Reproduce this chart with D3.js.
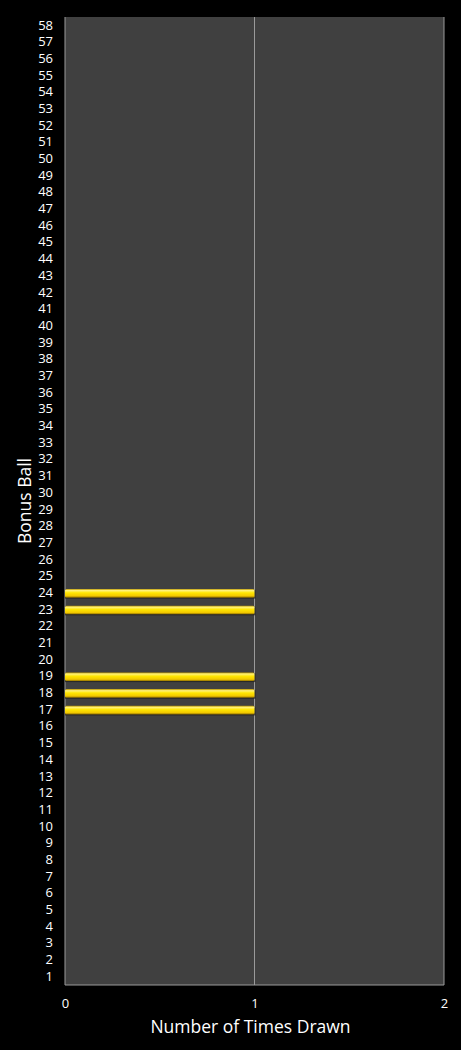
<!DOCTYPE html>
<html>
<head>
<meta charset="utf-8">
<script src="https://cdn.jsdelivr.net/npm/d3@7"></script>
<style>
  body { margin: 0; background: #000; }
  svg text { font-family: "Open Sans", "DejaVu Sans", sans-serif; fill: #fff; }
</style>
</head>
<body>
<div id="chart"></div>
<script>
// Bonus ball numbers 1..58 and how often each was drawn
const balls = d3.range(1, 59).map(String);
const drawnBalls = ["17", "18", "19", "23", "24"];
const drawnCounts = [1, 1, 1, 1, 1];
const xTicks = [0, 1, 2];

const counts = balls.map(b => {
  const i = drawnBalls.indexOf(b);
  return { ball: b, count: i < 0 ? 0 : drawnCounts[i] };
});

const W = 461, H = 1050;
const margin = { top: 17, right: 17, bottom: 65, left: 65 };
const width = W - margin.left - margin.right;
const height = H - margin.top - margin.bottom;

const svg = d3.select("#chart").append("svg")
  .attr("width", W).attr("height", H);

const defs = svg.append("defs");
const grad = defs.append("linearGradient")
  .attr("id", "gold").attr("x1", 0).attr("y1", 0).attr("x2", 0).attr("y2", 1);
grad.append("stop").attr("offset", "0%").attr("stop-color", "#b89400");
grad.append("stop").attr("offset", "18%").attr("stop-color", "#fff27a");
grad.append("stop").attr("offset", "45%").attr("stop-color", "#ffe600");
grad.append("stop").attr("offset", "80%").attr("stop-color", "#f2c800");
grad.append("stop").attr("offset", "100%").attr("stop-color", "#8a6a00");

const g = svg.append("g")
  .attr("transform", `translate(${margin.left},${margin.top})`);

const x = d3.scaleLinear().domain([0, 2]).range([0, width]);
const y = d3.scaleBand().domain(balls.slice().reverse()).range([0, height]).paddingInner(0.48).paddingOuter(0.24);

// plot background
g.append("rect")
  .attr("width", width).attr("height", height)
  .attr("fill", "#404040");

// vertical gridlines
g.selectAll(".grid")
  .data(xTicks)
  .join("line")
  .attr("class", "grid")
  .attr("x1", d => x(d)).attr("x2", d => x(d))
  .attr("y1", 0).attr("y2", height)
  .attr("stroke", "#9a9a9a").attr("stroke-width", 1);

// bottom border
g.append("line")
  .attr("x1", 0).attr("x2", width)
  .attr("y1", height).attr("y2", height)
  .attr("stroke", "#9a9a9a");

// bar shadows
g.selectAll(".shadow")
  .data(counts.filter(d => d.count > 0))
  .join("rect")
  .attr("class", "shadow")
  .attr("x", x(0))
  .attr("y", d => y(d.ball) + 1.5)
  .attr("width", d => x(d.count) - x(0) + 1)
  .attr("height", y.bandwidth())
  .attr("fill", "#1e1e1e")
  .attr("opacity", 0.7);

// bars
g.selectAll(".bar")
  .data(counts.filter(d => d.count > 0))
  .join("rect")
  .attr("class", "bar")
  .attr("x", x(0))
  .attr("y", d => y(d.ball) + 0.5)
  .attr("width", d => x(d.count) - x(0))
  .attr("height", y.bandwidth())
  .attr("rx", 1.5)
  .attr("fill", "url(#gold)");

// y axis labels
const yAxis = g.append("g")
  .call(d3.axisLeft(y).tickSize(0).tickPadding(12));
yAxis.select(".domain").remove();
yAxis.selectAll("text").attr("font-size", 13).attr("fill", "#fff");

// x axis labels
const xAxis = g.append("g")
  .attr("transform", `translate(0,${height})`)
  .call(d3.axisBottom(x).tickValues(xTicks).tickFormat(d3.format("d")).tickSize(0).tickPadding(14));
xAxis.select(".domain").remove();
xAxis.selectAll("text").attr("font-size", 13).attr("fill", "#fff");

// axis titles
svg.append("text")
  .attr("x", margin.left + width / 2 - 4)
  .attr("y", 1033)
  .attr("text-anchor", "middle")
  .attr("font-size", 17.5)
  .text("Number of Times Drawn");

svg.append("text")
  .attr("transform", `translate(31,${margin.top + height / 2}) rotate(-90)`)
  .attr("text-anchor", "middle")
  .attr("font-size", 17.5)
  .text("Bonus Ball");
</script>
</body>
</html>
